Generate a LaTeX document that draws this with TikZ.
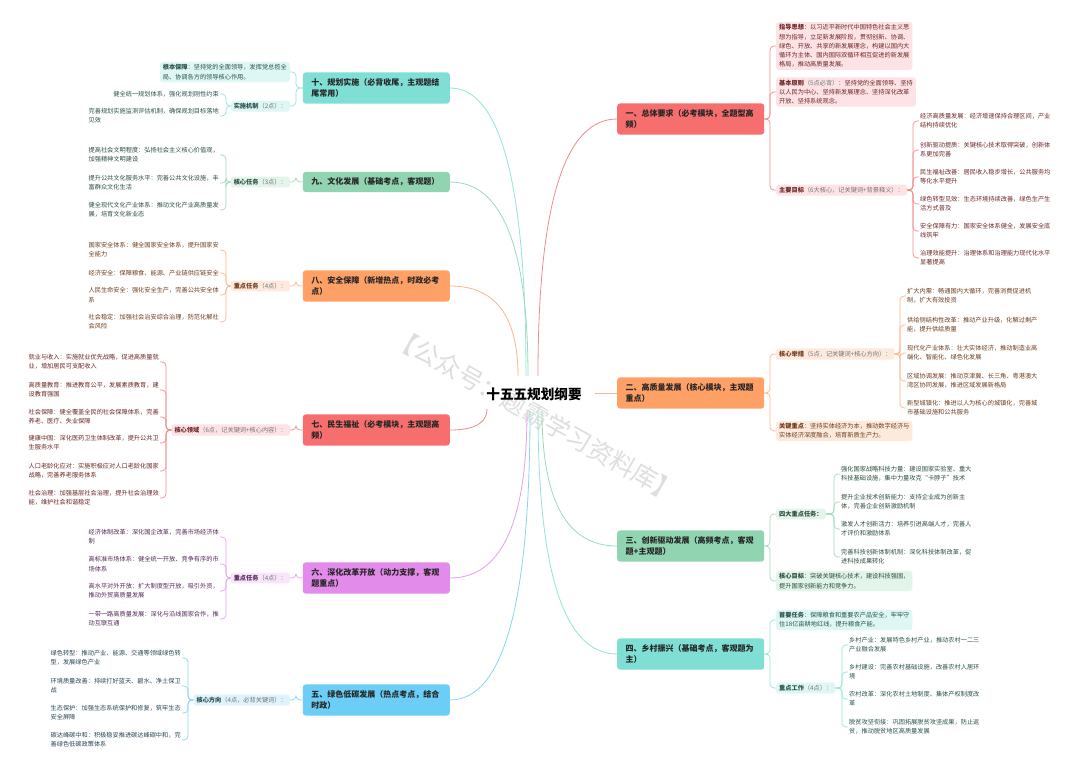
\documentclass[tikz,border=0pt]{standalone}
\usepackage{fontspec}
\setmainfont{Noto Sans CJK SC}
\usetikzlibrary{calc}
\definecolor{cRed}{HTML}{F76E6E}
\definecolor{cOrg}{HTML}{FFA066}
\definecolor{cGrn}{HTML}{90D4B1}
\definecolor{cTeal}{HTML}{7FDFD5}
\definecolor{cBlue}{HTML}{6CCDF6}
\definecolor{cPur}{HTML}{E28BEA}
\definecolor{lRed}{HTML}{FDE3E5}
\definecolor{lOrg}{HTML}{FEEADC}
\definecolor{lGrn}{HTML}{E3F4EA}
\definecolor{lTeal}{HTML}{DFF7F4}
\definecolor{lBlue}{HTML}{DFF3FC}
\definecolor{lPur}{HTML}{F8E5FA}
\definecolor{tRed}{HTML}{6E2626}
\definecolor{tOrg}{HTML}{6E3C1C}
\definecolor{tGrn}{HTML}{2C4E3E}
\definecolor{tTeal}{HTML}{2A524D}
\definecolor{tBlue}{HTML}{2A4756}
\definecolor{tPur}{HTML}{532A57}
\definecolor{nRed}{HTML}{F28B8B}
\definecolor{nOrg}{HTML}{FDB48A}
\definecolor{nGrn}{HTML}{9FD9BC}
\definecolor{nTeal}{HTML}{93E4DB}
\definecolor{nBlue}{HTML}{86D5F5}
\definecolor{nPur}{HTML}{E5A0EC}
\newcommand{\PN}[1]{\textcolor{black!55}{#1}}
\newcommand{\MCurve}[3]{\draw[#1,line width=0.8pt] (#2) .. controls ($(#2)!0.667!(#2 |- #3)$) and ($(#3)!0.667!(#2 |- #3)$) .. (#3);}
\newcommand{\RBr}[3]{\draw[#1,conn] (#2.east) -- ($(#2.east -| #3.west)+(-6,0)$) |- (#3.west);}
\newcommand{\LBr}[3]{\draw[#1,conn] (#2.west) -- ($(#2.west -| #3.east)+(6,0)$) |- (#3.east);}
\tikzset{
  mainbox/.style={rounded corners=3pt, text width=130pt, inner xsep=8.5pt, inner ysep=6pt, align=left, font=\fontsize{8}{11.5}\selectfont\bfseries, text=black!85},
  subbox/.style={rounded corners=2.5pt, inner xsep=3pt, inner ysep=2.5pt, align=left, font=\fontsize{6.2}{9.2}\selectfont},
  leaf/.style={inner sep=1pt, align=left, font=\fontsize{6.2}{9.2}\selectfont},
  conn/.style={line width=0.7pt, rounded corners=4pt},
}
\begin{document}
\begin{tikzpicture}[x=1pt,y=-1pt]
\fill[white] (0,0) rectangle (1080,761);
\useasboundingbox (0,0) rectangle (1080,761);
% watermark
\node[rotate=-29.5, text=black!13, font=\fontsize{25}{25}\selectfont] (wm) at (536,415) {【公众号：题霸学习资料库】};
% root
\node[font=\fontsize{13.6}{15}\selectfont\bfseries, text=black] (root) at (534,394) {十五五规划纲要};
% main topics
\node[mainbox, fill=cRed, anchor=west] (m1) at (617,119) {一、总体要求（必考模块，全题型高\\频）};
\node[mainbox, fill=cOrg, anchor=west] (m2) at (617,393) {二、高质量发展（核心模块，主观题\\重点）};
\node[mainbox, fill=cGrn, anchor=west] (m3) at (617,546) {三、创新驱动发展（高频考点，客观\\题+主观题）};
\node[mainbox, fill=cTeal, anchor=west] (m4) at (617,654) {四、乡村振兴（基础考点，客观题为\\主）};
\node[mainbox, fill=cBlue, anchor=east] (m5) at (450,700) {五、绿色低碳发展（热点考点，结合\\时政）};
\node[mainbox, fill=cPur, anchor=east] (m6) at (450,578) {六、深化改革开放（动力支撑，客观\\题重点）};
\node[mainbox, fill=cRed, anchor=east] (m7) at (450,430) {七、民生福祉（必考模块，主观题高\\频）};
\node[mainbox, fill=cOrg, anchor=east] (m8) at (450,286) {八、安全保障（新增热点，时政必考\\点）};
\node[mainbox, fill=cGrn, anchor=east] (m9) at (450,182) {九、文化发展（基础考点，客观题）};
\node[mainbox, fill=cTeal, anchor=east] (m10) at (450,88) {十、规划实施（必背收尾，主观题结\\尾常用）};
% curve start points
\coordinate (s1) at (538,376);
\coordinate (s10) at (526,376);
\coordinate (s9) at (528,376);
\coordinate (s8) at (518,376);
\coordinate (s7) at (487,409);
\coordinate (s2) at (595,393);
\coordinate (s3) at (542,411);
\coordinate (s4) at (538,411);
\coordinate (s6) at (527,411);
\coordinate (s5) at (530,411);
\MCurve{nRed}{s1}{m1.west}
\MCurve{nTeal}{s10}{m10.east}
\MCurve{nGrn}{s9}{m9.east}
\MCurve{nOrg}{s8}{m8.east}
\MCurve{nRed}{s7}{m7.east}
\draw[nOrg,line width=0.8pt] (s2) -- (m2.west);
\MCurve{nGrn}{s3}{m3.west}
\MCurve{nTeal}{s4}{m4.west}
\MCurve{nPur}{s6}{m6.east}
\MCurve{nBlue}{s5}{m5.east}

% ===== 一 =====
\node[subbox, fill=lRed, text=tRed, anchor=west] (zd) at (776,46) {\textbf{指导思想}：以习近平新时代中国特色社会主义思\\想为指导，立足新发展阶段，贯彻创新、协调、\\绿色、开放、共享的新发展理念，构建以国内大\\循环为主体、国内国际双循环相互促进的新发展\\格局，推动高质量发展。};
\node[subbox, fill=lRed, text=tRed, anchor=west] (jb) at (776,92) {\textbf{基本原则}\PN{（5点必背）}：坚持党的全面领导、坚持\\以人民为中心、坚持新发展理念、坚持深化改革\\开放、坚持系统观念。};
\node[subbox, fill=lRed, text=tRed, anchor=west] (zy) at (776,190) {\textbf{主要目标}\PN{（6大核心，记关键词+背景释义）：}};
\node[leaf, text=tRed, anchor=west] (g1) at (919,121) {经济高质量发展：经济增速保持合理区间，产业\\结构持续优化};
\node[leaf, text=tRed, anchor=west] (g2) at (919,150) {创新驱动提质：关键核心技术取得突破，创新体\\系更加完善};
\node[leaf, text=tRed, anchor=west] (g3) at (919,177) {民生福祉改善：居民收入稳步增长，公共服务均\\等化水平提升};
\node[leaf, text=tRed, anchor=west] (g4) at (919,204) {绿色转型见效：生态环境持续改善，绿色生产生\\活方式普及};
\node[leaf, text=tRed, anchor=west] (g5) at (919,231) {安全保障有力：国家安全体系健全，发展安全底\\线筑牢};
\node[leaf, text=tRed, anchor=west] (g6) at (919,258) {治理效能提升：治理体系和治理能力现代化水平\\显著提高};
\RBr{nRed}{m1}{zd}
\RBr{nRed}{m1}{jb}
\RBr{nRed}{m1}{zy}
\foreach \c in {g1,g2,g3,g4,g5,g6} {\RBr{nRed}{zy}{\c}}

% ===== 二 =====
\node[subbox, fill=lOrg, text=tOrg, anchor=west] (hx) at (776,354) {\textbf{核心举措}\PN{（5点，记关键词+核心方向）：}};
\node[subbox, fill=lOrg, text=tOrg, anchor=west] (gj) at (776,431) {\textbf{关键重点}：坚持实体经济为本，推动数字经济与\\实体经济深度融合，培育新质生产力。};
\node[leaf, text=tOrg, anchor=west] (h1) at (906,296) {扩大内需：畅通国内大循环，完善消费促进机\\制，扩大有效投资};
\node[leaf, text=tOrg, anchor=west] (h2) at (906,325) {供给侧结构性改革：推动产业升级，化解过剩产\\能，提升供给质量};
\node[leaf, text=tOrg, anchor=west] (h3) at (906,353) {现代化产业体系：壮大实体经济，推动制造业高\\端化、智能化、绿色化发展};
\node[leaf, text=tOrg, anchor=west] (h4) at (906,381) {区域协调发展：推动京津冀、长三角、粤港澳大\\湾区协同发展，推进区域发展新格局};
\node[leaf, text=tOrg, anchor=west] (h5) at (906,408) {新型城镇化：推进以人为核心的城镇化，完善城\\市基础设施和公共服务};
\RBr{nOrg}{m2}{hx}
\RBr{nOrg}{m2}{gj}
\foreach \c in {h1,h2,h3,h4,h5} {\RBr{nOrg}{hx}{\c}}

% ===== 三 =====
\node[subbox, fill=lGrn, text=tGrn, anchor=west] (sd) at (776,514) {\textbf{四大重点任务：}};
\node[subbox, fill=lGrn, text=tGrn, anchor=west] (hm) at (776,581) {\textbf{核心目标}：突破关键核心技术，建设科技强国，\\提升国家创新能力和竞争力。};
\node[leaf, text=tGrn, anchor=west] (k1) at (840,474) {强化国家战略科技力量：建设国家实验室、重大\\科技基础设施，集中力量攻克“卡脖子”技术};
\node[leaf, text=tGrn, anchor=west] (k2) at (840,502) {提升企业技术创新能力：支持企业成为创新主\\体，完善企业创新激励机制};
\node[leaf, text=tGrn, anchor=west] (k3) at (840,529) {激发人才创新活力：培养引进高端人才，完善人\\才评价和激励体系};
\node[leaf, text=tGrn, anchor=west] (k4) at (840,557) {完善科技创新体制机制：深化科技体制改革，促\\进科技成果转化};
\RBr{nGrn}{m3}{sd}
\RBr{nGrn}{m3}{hm}
\foreach \c in {k1,k2,k3,k4} {\RBr{nGrn}{sd}{\c}}

% ===== 四 =====
\node[subbox, fill=lTeal, text=tTeal, anchor=west] (sy) at (776,620) {\textbf{首要任务}：保障粮食和重要农产品安全，牢牢守\\住18亿亩耕地红线，提升粮食产能。};
\node[subbox, fill=lTeal, text=tTeal, anchor=west] (zg) at (776,688) {\textbf{重点工作}\PN{（4点）：}};
\node[leaf, text=tTeal, anchor=west] (r1) at (848,645) {乡村产业：发展特色乡村产业，推动农村一二三\\产业融合发展};
\node[leaf, text=tTeal, anchor=west] (r2) at (848,672) {乡村建设：完善农村基础设施，改善农村人居环\\境};
\node[leaf, text=tTeal, anchor=west] (r3) at (848,699) {农村改革：深化农村土地制度、集体产权制度改\\革};
\node[leaf, text=tTeal, anchor=west] (r4) at (848,727) {脱贫攻坚衔接：巩固拓展脱贫攻坚成果，防止返\\贫，推动脱贫地区高质量发展};
\RBr{nTeal}{m4}{sy}
\RBr{nTeal}{m4}{zg}
\foreach \c in {r1,r2,r3,r4} {\RBr{nTeal}{zg}{\c}}

% ===== 十 =====
\node[subbox, fill=lTeal, text=tTeal, anchor=east] (gb) at (290,72) {\textbf{根本保障}：坚持党的全面领导，发挥党总揽全\\局、协调各方的领导核心作用。};
\node[subbox, fill=lTeal, text=tTeal, anchor=east] (ss) at (290,106) {\textbf{实施机制}\PN{（2点）：}};
\node[leaf, text=tTeal, anchor=east] (p1) at (220,94) {健全统一规划体系，强化规划刚性约束};
\node[leaf, text=tTeal, anchor=east] (p2) at (220,116) {完善规划实施监测评估机制，确保规划目标落地\\见效};
\LBr{nTeal}{m10}{gb}
\LBr{nTeal}{m10}{ss}
\foreach \c in {p1,p2} {\LBr{nTeal}{ss}{\c}}

% ===== 九 =====
\node[subbox, fill=lGrn, text=tGrn, anchor=east] (hr) at (290,182) {\textbf{核心任务}\PN{（3点）：}};
\node[leaf, text=tGrn, anchor=east] (q1) at (220,155) {提高社会文明程度：弘扬社会主义核心价值观，\\加强精神文明建设};
\node[leaf, text=tGrn, anchor=east] (q2) at (220,183) {提升公共文化服务水平：完善公共文化设施，丰\\富群众文化生活};
\node[leaf, text=tGrn, anchor=east] (q3) at (220,210) {健全现代文化产业体系：推动文化产业高质量发\\展，培育文化新业态};
\LBr{nGrn}{m9}{hr}
\foreach \c in {q1,q2,q3} {\LBr{nGrn}{hr}{\c}}

% ===== 八 =====
\node[subbox, fill=lOrg, text=tOrg, anchor=east] (zr) at (290,286) {\textbf{重点任务}\PN{（4点）：}};
\node[leaf, text=tOrg, anchor=east] (a1) at (220,250) {国家安全体系：健全国家安全体系，提升国家安\\全能力};
\node[leaf, text=tOrg, anchor=east] (a2) at (220,273) {经济安全：保障粮食、能源、产业链供应链安全};
\node[leaf, text=tOrg, anchor=east] (a3) at (220,295) {人民生命安全：强化安全生产，完善公共安全体\\系};
\node[leaf, text=tOrg, anchor=east] (a4) at (220,322) {社会稳定：加强社会治安综合治理，防范化解社\\会风险};
\LBr{nOrg}{m8}{zr}
\foreach \c in {a1,a2,a3,a4} {\LBr{nOrg}{zr}{\c}}

% ===== 七 =====
\node[subbox, fill=lRed, text=tRed, anchor=east] (hl) at (290,430) {\textbf{核心领域}\PN{（6点，记关键词+核心内容）：}};
\node[leaf, text=tRed, anchor=east] (b1) at (160,362) {就业与收入：实施就业优先战略，促进高质量就\\业，增加居民可支配收入};
\node[leaf, text=tRed, anchor=east] (b2) at (160,390) {高质量教育：推进教育公平，发展素质教育，建\\设教育强国};
\node[leaf, text=tRed, anchor=east] (b3) at (160,417) {社会保障：健全覆盖全民的社会保障体系，完善\\养老、医疗、失业保障};
\node[leaf, text=tRed, anchor=east] (b4) at (160,443) {健康中国：深化医药卫生体制改革，提升公共卫\\生服务水平};
\node[leaf, text=tRed, anchor=east] (b5) at (160,471) {人口老龄化应对：实施积极应对人口老龄化国家\\战略，完善养老服务体系};
\node[leaf, text=tRed, anchor=east] (b6) at (160,498) {社会治理：加强基层社会治理，提升社会治理效\\能，维护社会和谐稳定};
\LBr{nRed}{m7}{hl}
\foreach \c in {b1,b2,b3,b4,b5,b6} {\LBr{nRed}{hl}{\c}}

% ===== 六 =====
\node[subbox, fill=lPur, text=tPur, anchor=east] (zs) at (290,578) {\textbf{重点任务}\PN{（4点）：}};
\node[leaf, text=tPur, anchor=east] (c1) at (220,537) {经济体制改革：深化国企改革，完善市场经济体\\制};
\node[leaf, text=tPur, anchor=east] (c2) at (220,564) {高标准市场体系：健全统一开放、竞争有序的市\\场体系};
\node[leaf, text=tPur, anchor=east] (c3) at (220,591) {高水平对外开放：扩大制度型开放，吸引外资，\\推动外贸高质量发展};
\node[leaf, text=tPur, anchor=east] (c4) at (220,619) {一带一路高质量发展：深化与沿线国家合作，推\\动互联互通};
\LBr{nPur}{m6}{zs}
\foreach \c in {c1,c2,c3,c4} {\LBr{nPur}{zs}{\c}}

% ===== 五 =====
\node[subbox, fill=lBlue, text=tBlue, anchor=east] (hf) at (290,700) {\textbf{核心方向}\PN{（4点，必背关键词）：}};
\node[leaf, text=tBlue, anchor=east] (d1) at (182,658) {绿色转型：推动产业、能源、交通等领域绿色转\\型，发展绿色产业};
\node[leaf, text=tBlue, anchor=east] (d2) at (182,686) {环境质量改善：持续打好蓝天、碧水、净土保卫\\战};
\node[leaf, text=tBlue, anchor=east] (d3) at (182,713) {生态保护：加强生态系统保护和修复，筑牢生态\\安全屏障};
\node[leaf, text=tBlue, anchor=east] (d4) at (182,740) {碳达峰碳中和：积极稳妥推进碳达峰碳中和，完\\善绿色低碳政策体系};
\LBr{nBlue}{m5}{hf}
\foreach \c in {d1,d2,d3,d4} {\LBr{nBlue}{hf}{\c}}
\end{tikzpicture}
\end{document}
